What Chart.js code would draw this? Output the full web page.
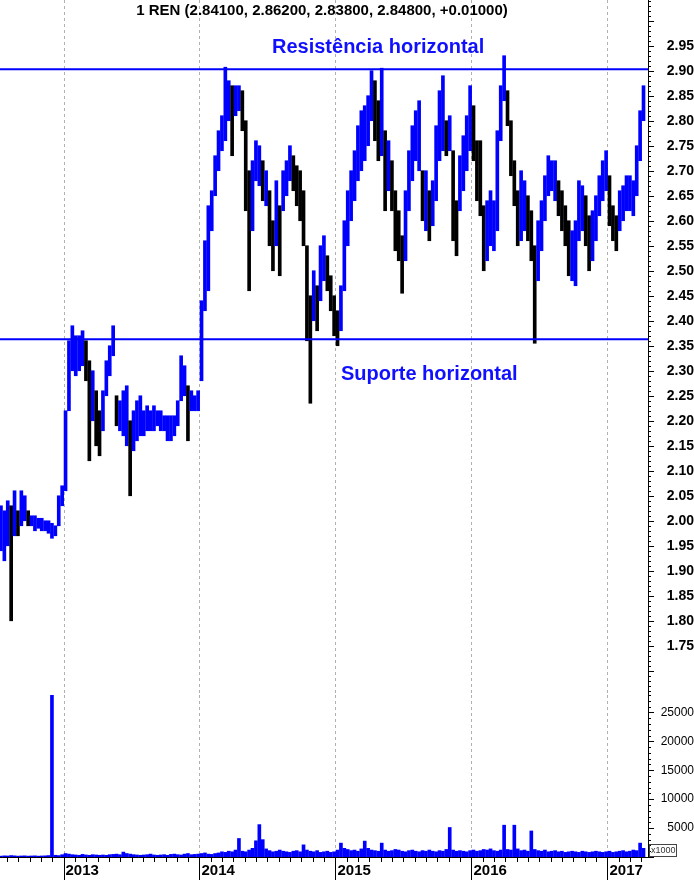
<!DOCTYPE html>
<html>
<head>
<meta charset="utf-8">
<script src="https://cdn.jsdelivr.net/npm/chart.js@4.4.0/dist/chart.umd.min.js"></script>
<style>
  body { margin: 0; background: #fff; }
  #wrap { position: relative; width: 694px; height: 880px; }
  #priceBox { position: absolute; left: 0; top: 0; width: 694px; height: 695px; }
  #volBox { position: absolute; left: 0; top: 695px; width: 694px; height: 185px; }
</style>
</head>
<body>
<div id="wrap">
  <div id="priceBox"><canvas id="priceChart"></canvas></div>
  <div id="volBox"><canvas id="volumeChart"></canvas></div>
</div>
<script>
// one bar every ~6 trading days, starting mid 2012
const startYear = 2012.54;
const stepYear = 0.025;

const lows = [
  // 2012
  1.94, 1.92, 1.95, 1.80, 1.97, 1.97, 1.99, 2.00, 1.99, 1.99, 1.98, 1.985, 1.98, 1.98, 1.975, 1.965, 1.97, 1.99,
  // 2013
  2.03, 2.06, 2.22, 2.30, 2.29, 2.30, 2.31, 2.28, 2.12, 2.20, 2.15, 2.13, 2.18, 2.25, 2.29, 2.33, 2.19, 2.18,
  2.17, 2.15, 2.05, 2.14, 2.16, 2.17, 2.17, 2.18, 2.18, 2.18, 2.19, 2.18, 2.18, 2.16, 2.16, 2.17, 2.19, 2.24,
  2.25, 2.16, 2.22, 2.22,
  // 2014
  2.22, 2.28, 2.42, 2.46, 2.58, 2.65, 2.70, 2.74, 2.76, 2.80, 2.73, 2.81, 2.82, 2.78, 2.62, 2.46, 2.58, 2.68,
  2.67, 2.64, 2.63, 2.55, 2.50, 2.55, 2.49, 2.62, 2.65, 2.68, 2.66, 2.63, 2.60, 2.55, 2.36, 2.235, 2.40, 2.38,
  2.44, 2.48, 2.46, 2.42, 2.37, 2.35,
  // 2015
  2.38, 2.46, 2.55, 2.60, 2.64, 2.68, 2.70, 2.72, 2.75, 2.80, 2.76, 2.72, 2.73, 2.62, 2.66, 2.62, 2.54, 2.52,
  2.455, 2.52, 2.62, 2.68, 2.72, 2.70, 2.60, 2.58, 2.56, 2.59, 2.64, 2.72, 2.74, 2.73, 2.74, 2.56, 2.53, 2.62,
  2.66, 2.70, 2.74, 2.72,
  // 2016
  2.64, 2.61, 2.50, 2.52, 2.55, 2.54, 2.58, 2.76, 2.84, 2.79, 2.69, 2.63, 2.55, 2.56, 2.58, 2.56, 2.52, 2.355,
  2.48, 2.54, 2.60, 2.65, 2.66, 2.64, 2.61, 2.58, 2.55, 2.49, 2.48, 2.47, 2.56, 2.58, 2.55, 2.50, 2.52, 2.56,
  2.61, 2.64, 2.66, 2.59,
  // 2017
  2.56, 2.54, 2.58, 2.60, 2.62, 2.62, 2.61, 2.65, 2.72, 2.80
];

const highs = [
  // 2012
  2.03, 2.02, 2.04, 2.03, 2.06, 2.02, 2.06, 2.05, 2.02, 2.01, 2.01, 2.005, 2.005, 2.00, 2.00, 1.995, 1.99, 2.05,
  // 2013
  2.07, 2.22, 2.36, 2.39, 2.37, 2.37, 2.38, 2.36, 2.32, 2.30, 2.26, 2.22, 2.26, 2.32, 2.35, 2.39, 2.25, 2.24,
  2.26, 2.27, 2.20, 2.22, 2.24, 2.25, 2.22, 2.23, 2.22, 2.23, 2.22, 2.22, 2.21, 2.21, 2.21, 2.21, 2.24, 2.33,
  2.31, 2.27, 2.26, 2.25,
  // 2014
  2.26, 2.44, 2.56, 2.63, 2.66, 2.73, 2.78, 2.81, 2.907, 2.88, 2.87, 2.87, 2.87, 2.86, 2.80, 2.70, 2.72, 2.76,
  2.75, 2.72, 2.70, 2.66, 2.60, 2.68, 2.63, 2.70, 2.72, 2.75, 2.73, 2.71, 2.70, 2.66, 2.55, 2.45, 2.50, 2.47,
  2.55, 2.57, 2.53, 2.49, 2.45, 2.42,
  // 2015
  2.47, 2.60, 2.66, 2.70, 2.74, 2.79, 2.82, 2.83, 2.85, 2.90, 2.88, 2.84, 2.905, 2.78, 2.76, 2.72, 2.66, 2.62,
  2.57, 2.66, 2.74, 2.79, 2.82, 2.84, 2.70, 2.70, 2.66, 2.68, 2.79, 2.86, 2.89, 2.80, 2.81, 2.74, 2.64, 2.73,
  2.77, 2.81, 2.87, 2.83,
  // 2016
  2.76, 2.76, 2.63, 2.64, 2.66, 2.64, 2.78, 2.87, 2.93, 2.86, 2.80, 2.72, 2.66, 2.70, 2.68, 2.65, 2.62, 2.55,
  2.60, 2.64, 2.69, 2.73, 2.72, 2.72, 2.68, 2.66, 2.63, 2.60, 2.58, 2.60, 2.68, 2.67, 2.65, 2.61, 2.62, 2.65,
  2.69, 2.72, 2.74, 2.69,
  // 2017
  2.63, 2.61, 2.66, 2.67, 2.69, 2.69, 2.68, 2.75, 2.82, 2.87
];

// volume, in thousands
const volumes = [
  150, 200, 180, 250, 200, 150, 180, 200, 150, 180, 200, 150, 180, 200, 250, 28500, 300, 250,
  400, 600, 500, 400, 350, 300, 450, 350, 300, 400, 350, 300, 350, 300, 400, 450, 500, 400, 850, 600,
  500, 400, 350, 300, 350, 400, 500, 350, 300, 350, 400, 300, 450, 500, 400, 350, 500, 600, 400, 450,
  500, 600, 700, 500, 450, 600, 700, 900, 800, 1000, 900, 1200, 3200, 1000, 900, 1200, 1500, 2800, 5600, 3000,
  1400, 1100, 900, 1000, 1200, 1000, 900, 800, 1000, 1100, 900, 2100, 1200, 1000, 900, 1100, 800, 900, 1000, 800,
  900, 1200, 2400, 1500, 1300, 1100, 1200, 1000, 1400, 2750, 1500, 1200, 1100, 1000, 2400, 1200, 1000, 1100, 1300, 1200,
  1000, 900, 1100, 1200, 1000, 900, 1100, 1000, 1200, 1000, 900, 1100, 1000, 1300, 5100, 1200, 1000, 1100, 1000, 900,
  1100, 1200, 1000, 1100, 1300, 1200, 1400, 1100, 1000, 1200, 5500, 1300, 1200, 5500, 1400, 1100, 1200, 1000, 4500, 1300,
  1100, 1000, 1200, 900, 1000, 1100, 900, 1000, 800, 900, 1000, 900, 800, 1000, 900, 800, 900, 1000, 900, 800,
  900, 1000, 800, 900, 1000, 1100, 900, 1000, 1200, 1100, 2400, 1500
];

const priceTicks = [1.75, 1.80, 1.85, 1.90, 1.95, 2.00, 2.05, 2.10, 2.15, 2.20, 2.25, 2.30, 2.35,
  2.40, 2.45, 2.50, 2.55, 2.60, 2.65, 2.70, 2.75, 2.80, 2.85, 2.90, 2.95];
const volumeTicks = [5000, 10000, 15000, 20000, 25000];
const yearTicks = [2013, 2014, 2015, 2016, 2017];
const resistance = 2.903;
const support = 2.363;
const titleText = "1 REN (2.84100, 2.86200, 2.83800, 2.84800, +0.01000)";

const X_MIN = 2012.533;
const X_MAX = 2017.298;
const FONT = 'Arial, "Liberation Sans", sans-serif';
const BLUE = "#0000ff";

const times = lows.map((_, i) => startYear + i * stepYear);
// black when the bar clearly sits lower than the previous one
const barColors = lows.map((lo, i) => {
  if (i === 0) return BLUE;
  const mid = (lo + highs[i]) / 2;
  const prev = (lows[i - 1] + highs[i - 1]) / 2;
  return mid < prev - 0.015 ? "#000000" : BLUE;
});

function yearLines(chart) {
  const { ctx, chartArea, scales: { x } } = chart;
  ctx.save();
  ctx.strokeStyle = "#b0b0b0";
  ctx.lineWidth = 1;
  ctx.setLineDash([3, 3]);
  yearTicks.forEach((yr) => {
    const px = Math.round(x.getPixelForValue(yr)) + 0.5;
    ctx.beginPath();
    ctx.moveTo(px, chartArea.top);
    ctx.lineTo(px, chartArea.bottom);
    ctx.stroke();
  });
  ctx.restore();
}

const priceDecor = {
  id: "priceDecor",
  beforeDatasetsDraw: yearLines,
  afterDatasetsDraw(chart) {
    const { ctx, chartArea, scales: { y } } = chart;
    ctx.save();
    ctx.strokeStyle = BLUE;
    ctx.lineWidth = 2;
    [resistance, support].forEach((v) => {
      const py = y.getPixelForValue(v);
      ctx.beginPath();
      ctx.moveTo(chartArea.left, py);
      ctx.lineTo(chartArea.right, py);
      ctx.stroke();
    });
    ctx.fillStyle = "#000";
    ctx.font = "bold 15px " + FONT;
    ctx.textAlign = "center";
    ctx.textBaseline = "middle";
    ctx.fillText(titleText, 322, 11);
    ctx.fillStyle = "#1010ff";
    ctx.font = "bold 20px " + FONT;
    ctx.textAlign = "left";
    ctx.fillText("Resistência horizontal", 272, 47);
    ctx.fillText("Suporte horizontal", 341, 374);
    ctx.restore();
  },
  afterDraw(chart) {
    // minor ticks every 0.01
    const { ctx, scales: { y } } = chart;
    ctx.save();
    ctx.strokeStyle = "#000";
    ctx.lineWidth = 1;
    for (let k = 166; k <= 304; k++) {
      const py = Math.round(y.getPixelForValue(k / 100)) + 0.5;
      const len = k % 5 === 0 ? 6 : 3;
      ctx.beginPath();
      ctx.moveTo(y.left, py);
      ctx.lineTo(y.left + len, py);
      ctx.stroke();
    }
    ctx.restore();
  },
};

const volumeDecor = {
  id: "volumeDecor",
  beforeDatasetsDraw: yearLines,
  afterDraw(chart) {
    const { ctx, chartArea, scales: { x, y } } = chart;
    ctx.save();
    ctx.strokeStyle = "#000";
    ctx.lineWidth = 1;
    for (let k = 0; k <= 28; k++) {
      const py = Math.round(y.getPixelForValue(k * 1000)) + 0.5;
      const len = k % 5 === 0 ? 6 : 3;
      ctx.beginPath();
      ctx.moveTo(y.left, py);
      ctx.lineTo(y.left + len, py);
      ctx.stroke();
    }
    // month ticks under the axis, long ones at each year
    for (let m = 7; m <= 63; m++) {
      const px = Math.round(x.getPixelForValue(2012 + m / 12)) + 0.5;
      const len = m % 12 === 0 ? 23 : 5;
      ctx.beginPath();
      ctx.moveTo(px, chartArea.bottom);
      ctx.lineTo(px, chartArea.bottom + len);
      ctx.stroke();
    }
    // x1000 box
    ctx.strokeStyle = "#444";
    ctx.strokeRect(649.5, chartArea.bottom - 12.5, 27, 12);
    ctx.fillStyle = "#333";
    ctx.font = "9px " + FONT;
    ctx.textBaseline = "middle";
    ctx.fillText("x1000", 651, chartArea.bottom - 6);
    ctx.restore();
  },
};

new Chart(document.getElementById("priceChart"), {
  type: "bar",
  data: {
    datasets: [
      {
        data: times.map((t, i) => ({ x: t, y: [lows[i], highs[i]] })),
        backgroundColor: barColors,
        barThickness: 3,
        grouped: false,
      },
    ],
  },
  options: {
    responsive: true,
    maintainAspectRatio: false,
    animation: false,
    layout: { padding: 0 },
    plugins: { legend: { display: false }, tooltip: { enabled: false } },
    scales: {
      x: { type: "linear", min: X_MIN, max: X_MAX, offset: false, display: false },
      y: {
        position: "right",
        min: 1.6516,
        max: 3.0414,
        afterBuildTicks: (s) => { s.ticks = priceTicks.map((v) => ({ value: v })); },
        afterFit: (s) => { s.width = 46; s.paddingTop = 0; s.paddingBottom = 0; },
        grid: { drawOnChartArea: false, drawTicks: false },
        border: { display: true, color: "#000", width: 1 },
        ticks: {
          padding: 15,
          crossAlign: "far",
          color: "#000",
          font: { family: FONT, size: 14, weight: "bold" },
          callback: (v) => v.toFixed(2),
        },
      },
    },
  },
  plugins: [priceDecor],
});

new Chart(document.getElementById("volumeChart"), {
  type: "bar",
  data: {
    datasets: [
      {
        data: times.map((t, i) => ({ x: t, y: volumes[i] })),
        backgroundColor: BLUE,
        barThickness: 3,
        grouped: false,
      },
    ],
  },
  options: {
    responsive: true,
    maintainAspectRatio: false,
    animation: false,
    layout: { padding: 0 },
    plugins: { legend: { display: false }, tooltip: { enabled: false } },
    scales: {
      x: {
        type: "linear",
        min: X_MIN,
        max: X_MAX,
        offset: false,
        position: "bottom",
        afterBuildTicks: (s) => { s.ticks = yearTicks.map((v) => ({ value: v })); },
        afterFit: (s) => { s.height = 23; s.paddingLeft = 0; s.paddingRight = 0; },
        grid: { drawOnChartArea: false, drawTicks: false },
        border: { display: true, color: "#000" },
        ticks: {
          align: "start",
          padding: 5,
          labelOffset: 2,
          maxRotation: 0,
          autoSkip: false,
          color: "#000",
          font: { family: FONT, size: 15, weight: "bold" },
          callback: (v) => String(v),
        },
      },
      y: {
        position: "right",
        min: 0,
        max: 28000,
        afterBuildTicks: (s) => { s.ticks = volumeTicks.map((v) => ({ value: v })); },
        afterFit: (s) => { s.width = 46; s.paddingTop = 0; s.paddingBottom = 0; },
        grid: { drawOnChartArea: false, drawTicks: false },
        border: { display: true, color: "#000", width: 1 },
        ticks: {
          padding: 9,
          crossAlign: "far",
          color: "#000",
          font: { family: FONT, size: 12 },
          callback: (v) => String(v),
        },
      },
    },
  },
  plugins: [volumeDecor],
});
</script>
</body>
</html>
